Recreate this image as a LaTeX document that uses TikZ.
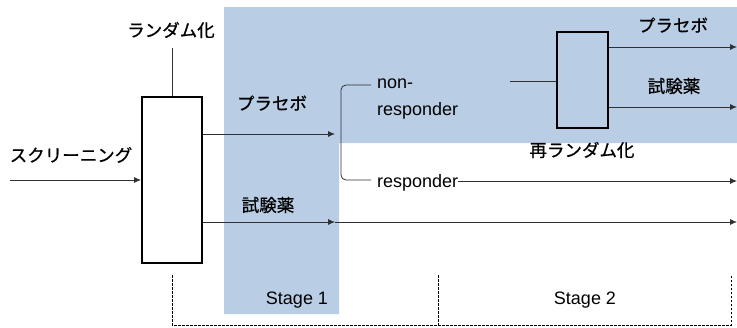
\documentclass[tikz,border=0pt]{standalone}
\usepackage{fontspec}
\setmainfont{Liberation Sans}
\newfontfamily\jpfont[FakeBold=0.7]{Noto Sans CJK JP}
\usetikzlibrary{arrows.meta}
\definecolor{bandblue}{HTML}{B9CDE5}
\definecolor{lineg}{HTML}{303030}
\tikzset{
  rbox/.style={draw=black, line width=2pt, inner sep=0pt},
  jp/.style={font=\jpfont\fontsize{17.5}{20}\selectfont, inner sep=0pt},
  lat/.style={font=\fontsize{18}{21}\selectfont, inner sep=0pt},
  conn/.style={draw=lineg, line width=0.8pt},
  arr/.style={conn, -{Latex[length=7pt,width=6pt]}},
  dashln/.style={draw=black, line width=0.6pt, dash pattern=on 2.5pt off 1.5pt}
}
\begin{document}
\begin{tikzpicture}[x=1pt,y=-1pt]
\useasboundingbox (0,0) rectangle (737,327);
% blue region
\fill[bandblue] (224,7) -- (737,7) -- (737,143) -- (339,143) -- (339,314) -- (224,314) -- cycle;

% boxes
\node[rbox, fill=white, minimum width=60pt, minimum height=166pt] (rand) at (172,180) {};
\node[rbox, fill=bandblue, minimum width=51pt, minimum height=96pt] (rerand) at (582.5,80) {};

% labels
\node[jp] (lrand) at (171,30) {ランダム化};
\node[jp] (lscreen) at (71,155) {スクリーニング};
\node[jp] (lplac) at (272,103) {プラセボ};
\node[jp] (ldrug) at (268,205) {試験薬};
\node[jp] (lrerand) at (582,150) {再ランダム化};
\node[jp] (lplac2) at (673,25) {プラセボ};
\node[jp] (ldrug2) at (674,86) {試験薬};
\node[lat, anchor=base west] (lnon) at (377,88) {non-};
\node[lat, anchor=base west] (lnonresp) at (377,115) {responder};
\node[lat, anchor=base west] (lresp) at (377,187) {responder};
\node[lat] (lst1) at (297,300) {Stage 1};
\node[lat] (lst2) at (585,300) {Stage 2};

% coordinates
\coordinate (scr0) at (10,180);
\coordinate (randtop) at (172,48);
\coordinate (pl0) at (rand.east |- 0,134);
\coordinate (pl1) at (335,134);
\coordinate (dr0) at (rand.east |- 0,222);
\coordinate (dr1) at (335,222);
\coordinate (dr2) at (737,222);
\coordinate (br0) at (371,85);
\coordinate (br1) at (341,85);
\coordinate (br2) at (341,180);
\coordinate (br3) at (371,180);
\coordinate (rs0) at (lresp.east |- 0,181);
\coordinate (rs1) at (737,181);
\coordinate (nr0) at (510,81);
\coordinate (rp0) at (rerand.east |- 0,47);
\coordinate (rp1) at (737,47);
\coordinate (rd0) at (rerand.east |- 0,107);
\coordinate (rd1) at (737,107);

% connectors
\draw[arr] (scr0) -- (rand.west);
\draw[conn] (randtop) -- (rand.north);
\draw[arr] (pl0) -- (pl1);
\draw[arr] (dr0) -- (dr1);
\draw[arr] (dr1) -- (dr2);
\draw[conn, rounded corners=5pt] (br0) -- (br1) -- (br2) -- (br3);
\draw[arr] (rs0) -- (rs1);
\draw[conn] (nr0) -- (rerand.west |- nr0);
\draw[arr] (rp0) -- (rp1);
\draw[arr] (rd0) -- (rd1);

% stage brackets
\coordinate (d0) at (172,275);
\coordinate (d1) at (172,325);
\coordinate (d2) at (731,325);
\coordinate (d3) at (731,275);
\coordinate (m0) at (438,275);
\coordinate (m1) at (438,325);
\draw[dashln] (d0) -- (d1) -- (d2) -- (d3);
\draw[dashln] (m0) -- (m1);
\end{tikzpicture}
\end{document}
